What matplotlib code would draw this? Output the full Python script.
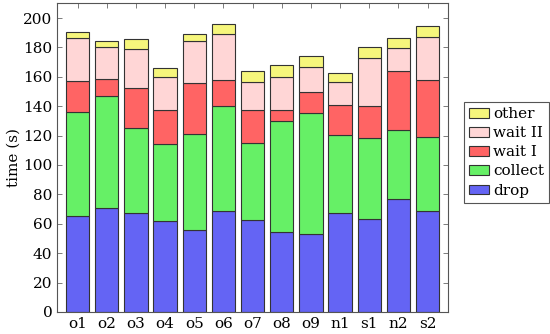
import numpy as np
import matplotlib
matplotlib.use('Agg')
import matplotlib.pyplot as plt

plt.rcParams['font.family'] = ['DejaVu Serif']

runs = ['o1', 'o2', 'o3', 'o4', 'o5', 'o6', 'o7', 'o8', 'o9', 'n1', 's1', 'n2', 's2']
drop = [65, 71, 67.5, 61.6, 55.7, 68.6, 62.3, 54.5, 53, 67.1, 63, 76.6, 68.6]
collect = [71, 75.8, 57.5, 52.7, 65.3, 71.8, 52.5, 75.5, 82.7, 53.4, 55.2, 47.4, 50.7]
wait1 = [21, 11.8, 27.3, 23.2, 34.7, 17.6, 22.4, 7.5, 13.8, 20.4, 22, 40, 38.7]
wait2 = [29.5, 22, 26.3, 22.3, 28.8, 31, 19.3, 22.3, 17.5, 15.9, 32.5, 15.5, 29]
other = [4, 3.9, 7.1, 6.1, 4.5, 6.9, 7.8, 8.4, 7.5, 5.7, 7.3, 6.8, 7.3]

series = [('drop', drop, '#6464f4'),
          ('collect', collect, '#66f066'),
          ('wait I', wait1, '#ff6464'),
          ('wait II', wait2, '#ffd6d6'),
          ('other', other, '#f6f67c')]

fig = plt.figure(figsize=(5.5, 3.34), dpi=100)
ax = fig.add_axes([0.104, 0.066, 0.7105, 0.924])

x = np.arange(len(runs))
bottom = np.zeros(len(runs))
handles = []
for name, vals, col in series:
    b = ax.bar(x, vals, 0.8, bottom=bottom, color=col, edgecolor='#333333',
               linewidth=0.8, label=name, zorder=2)
    handles.append(b)
    bottom += np.array(vals)

ax.set_xlim(-0.7, len(runs) - 0.3)
ax.set_ylim(0, 210)
ax.set_yticks(np.arange(0, 201, 20))
ax.set_xticks(x)
ax.set_xticklabels(runs)
ax.tick_params(direction='in', length=3.5, width=0.6, color='#666666',
               labelsize=11, top=True, right=True, pad=3.5)
for s in ax.spines.values():
    s.set_color('#555555')
    s.set_linewidth(0.8)
ax.set_ylabel('time (s)', fontsize=11, labelpad=2)

leg = fig.legend(handles[::-1], [s[0] for s in series][::-1],
                 loc='upper left', bbox_to_anchor=(0.8436, 0.6946),
                 fontsize=11, handlelength=1.3, handleheight=0.55,
                 handletextpad=0.25, labelspacing=0.33, borderpad=0.35,
                 borderaxespad=0, fancybox=False, framealpha=1)
leg.get_frame().set_edgecolor('#555555')
leg.get_frame().set_linewidth(0.8)

fig.savefig('out.png', dpi=100)
